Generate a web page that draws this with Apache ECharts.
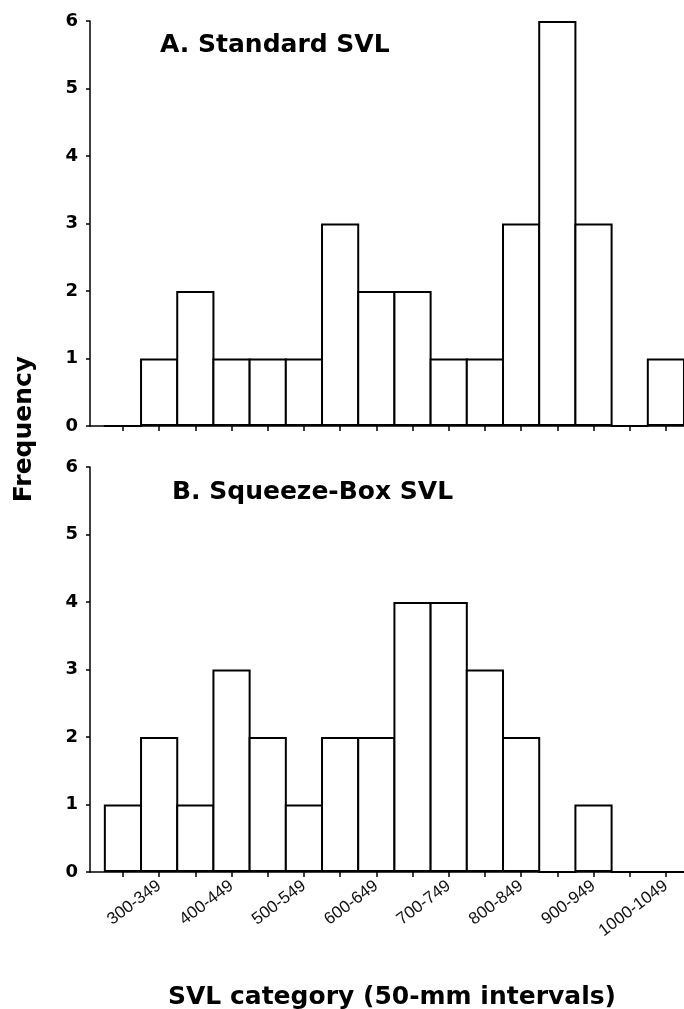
<!DOCTYPE html>
<html>
<head>
<meta charset="utf-8">
<script src="https://cdn.jsdelivr.net/npm/echarts@6/dist/echarts.min.js"></script>
<style>html,body{margin:0;padding:0;background:#fff;}#c{width:684px;height:1009px;}</style>
</head>
<body>
<div id="c"></div>
<script>
const categories = ['250-299','300-349','350-399','400-449','450-499','500-549','550-599','600-649',
  '650-699','700-749','750-799','800-849','850-899','900-949','950-999','1000-1049'];
const standardSVL = [0,1,2,1,1,1,3,2,2,1,1,3,6,3,0,1];
const squeezeBoxSVL = [1,2,1,3,2,1,2,2,4,4,3,2,0,1,0,0];
const yTicks = [0,1,2,3,4,5,6];
const panelTitles = ['A. Standard SVL','B. Squeeze-Box SVL'];
const yTitle = 'Frequency';
const xTitle = 'SVL category (50-mm intervals)';

const heavy = 'DejaVu Sans';
const tickIdx = categories.map((c,i)=>i);
const labelIdx = tickIdx.filter(i=>i%2===1);
const X_MIN = -0.91, X_MAX = 15.5, PLOT_W = 594;
const BAR_W = PLOT_W / (X_MAX - X_MIN);
const BORDER = 2;

function xAxisCfg(gridIndex, showLabels){
  return {
    type:'value', gridIndex, min:X_MIN, max:X_MAX,
    splitLine:{show:false},
    axisLine:{show:true, onZero:false, lineStyle:{color:'#000', width:1.5}},
    axisTick:{show:true, customValues:tickIdx, length:5, lineStyle:{color:'#000', width:1.5}},
    axisLabel:{show:showLabels, customValues:labelIdx, rotate:37, margin:12,
      color:'#111', fontFamily:'Liberation Sans', fontSize:17,
      formatter:(v)=>categories[Math.round(v)]}
  };
}
function yAxisCfg(gridIndex){
  return {
    type:'value', gridIndex, min:yTicks[0], max:yTicks[yTicks.length-1], interval:1,
    splitLine:{show:false},
    axisLine:{show:true, onZero:false, lineStyle:{color:'#000', width:1.5}},
    axisTick:{show:true, length:4, lineStyle:{color:'#000', width:1.5}},
    axisLabel:{color:'#000', fontFamily:heavy, fontWeight:'bold', fontSize:18, margin:12}
  };
}
function barSeries(idx, vals){
  return {
    type:'bar', xAxisIndex:idx, yAxisIndex:idx, barWidth:BAR_W + BORDER, barMaxWidth:100, barGap:'0%', barCategoryGap:'0%',
    data: vals.map((v,i)=>[i,v]),
    itemStyle:{color:'#fff', borderColor:'#000', borderWidth:BORDER},
    silent:true, animation:false
  };
}

const chart = echarts.init(document.getElementById('c'), null, {renderer:'canvas'});
chart.setOption({
  animation:false,
  backgroundColor:'#fff',
  grid:[
    {left:90, width:PLOT_W, top:21, height:405},
    {left:90, width:PLOT_W, top:467, height:405}
  ],
  xAxis:[xAxisCfg(0,false), xAxisCfg(1,true)],
  yAxis:[yAxisCfg(0), yAxisCfg(1)],
  series:[barSeries(0, standardSVL), barSeries(1, squeezeBoxSVL)],
  graphic:[
    {type:'text', left:160, top:33, style:{text:panelTitles[0], font:'bold 25px "DejaVu Sans"', fill:'#000'}},
    {type:'text', left:172, top:480, style:{text:panelTitles[1], font:'bold 25px "DejaVu Sans"', fill:'#000'}},
    {type:'text', x:24, y:429, rotation:Math.PI/2,
      style:{text:yTitle, font:'bold 25px "DejaVu Sans"', fill:'#000', align:'center', verticalAlign:'middle'}},
    {type:'text', x:392, y:997,
      style:{text:xTitle, font:'bold 25px "DejaVu Sans"', fill:'#000', align:'center', verticalAlign:'middle'}}
  ]
});
</script>
</body>
</html>
